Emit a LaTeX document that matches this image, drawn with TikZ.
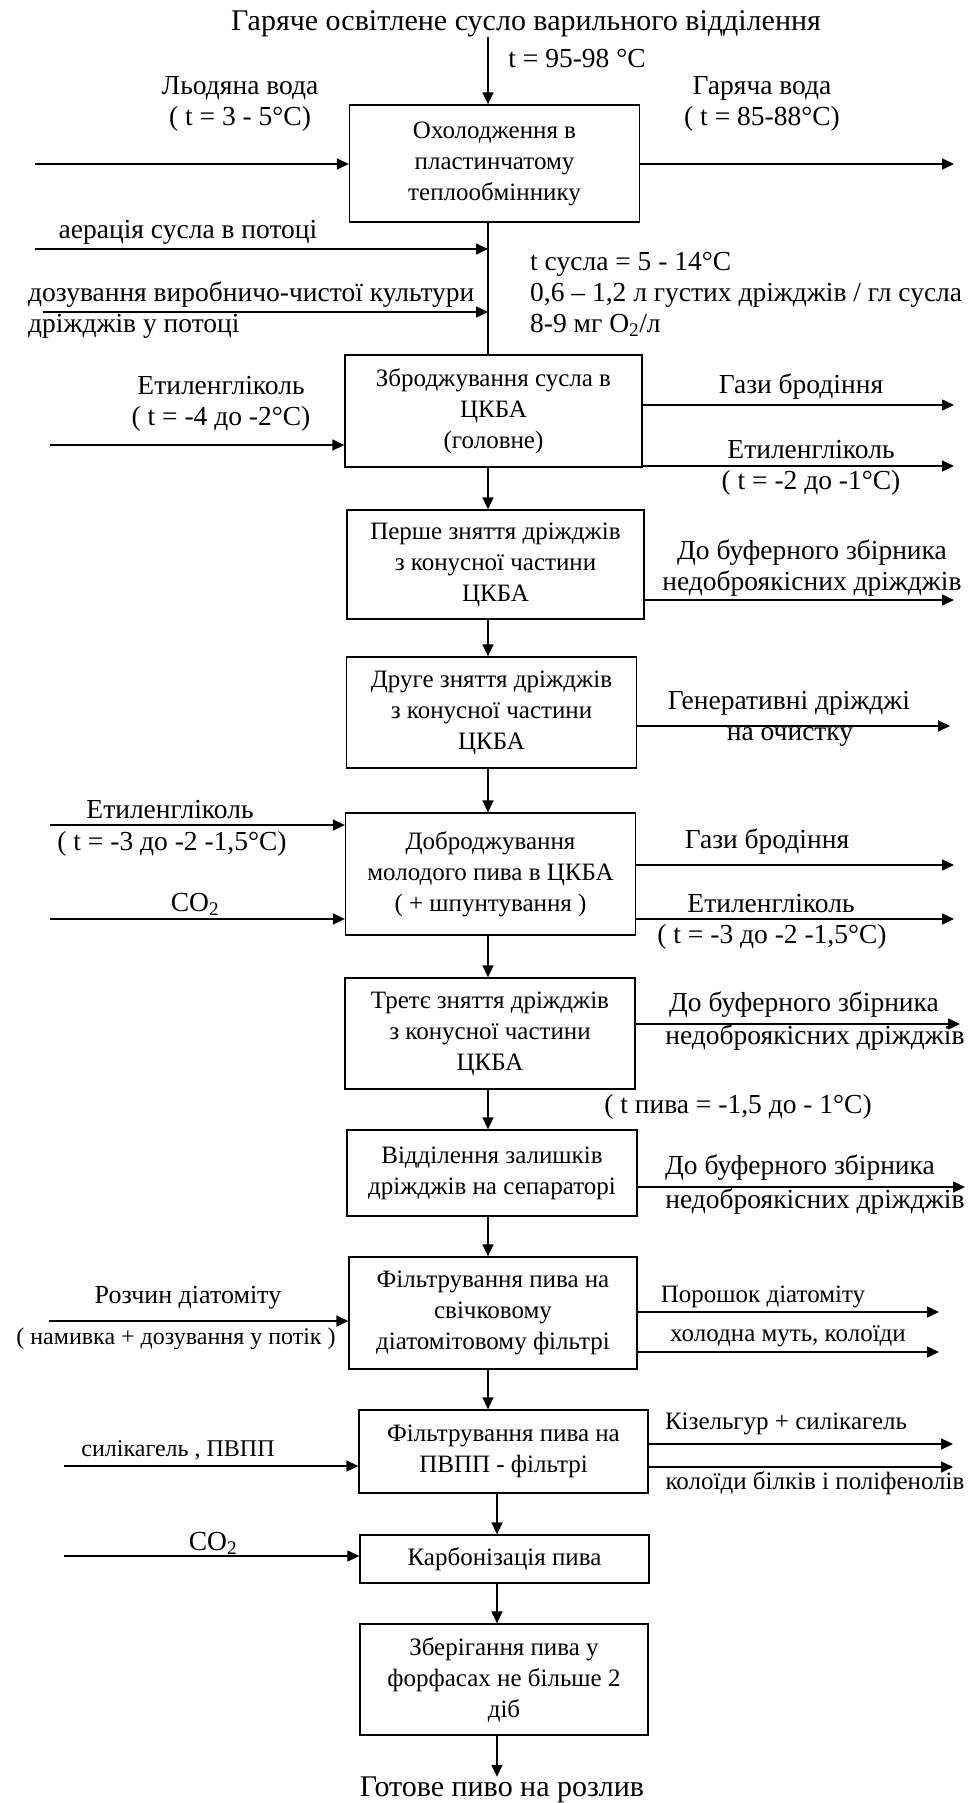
\documentclass[tikz,border=0pt]{standalone}
\usepackage{fontspec}
\setmainfont{Liberation Serif}
\usetikzlibrary{arrows.meta}

\begin{document}
\begin{tikzpicture}[x=1pt,y=-1pt,
   every node/.style={inner sep=0pt},
   stage/.style={draw,line width=1.3pt,align=center,minimum width=290pt,
      font=\fontsize{25}{31}\selectfont},
   lbl/.style={align=center,font=\fontsize{27.5}{31}\selectfont},
   lbs/.style={align=center,font=\fontsize{25}{30}\selectfont},
   flow/.style={line width=1.5pt,-{Triangle[length=12pt,width=11pt]}},
   pipe/.style={line width=1.5pt}]

\useasboundingbox (0,0) rectangle (970,1803);

\coordinate (s1) at (488,0);
\coordinate (s2) at (497,0);

\node[lbl,font=\fontsize{30}{32}\selectfont] (top) at (526,24) {Гаряче освітлене сусло варильного відділення};
\node[lbl] (tin) at (577,58) {t =  95-98 °C};

\node[stage,minimum height=117pt] (cool) at (494.5,163.5) {Охолодження в\\пластинчатому\\теплообміннику};
\node[stage,minimum height=112pt,minimum width=297pt] (ferm) at (493.5,411) {Зброджування сусла в\\ЦКБА\\(головне)};
\node[stage,minimum height=109pt,minimum width=297pt] (yst1) at (495.5,564.5) {Перше зняття дріжджів\\з конусної частини\\ЦКБА};
\node[stage,minimum height=111pt] (yst2) at (491.5,712.5) {Друге зняття дріжджів\\з конусної частини\\ЦКБА};
\node[stage,minimum height=122pt] (matur) at (490.5,874) {Доброджування\\молодого пива в ЦКБА\\( + шпунтування )};
\node[stage,minimum height=111pt] (yst3) at (490,1033.5) {Третє зняття  дріжджів\\з конусної частини\\ЦКБА};
\node[stage,minimum height=86pt] (sep) at (492,1173) {Відділення залишків\\дріжджів на сепараторі};
\node[stage,minimum height=112pt,minimum width=288pt] (filt1) at (493,1313) {Фільтрування пива на\\свічковому\\діатомітовому фільтрі};
\node[stage,minimum height=83pt,minimum width=289pt] (filt2) at (503.5,1451.5) {Фільтрування пива на\\ПВПП - фільтрі};
\node[stage,minimum height=48pt,minimum width=289pt] (carb) at (504.5,1559) {Карбонізація пива};
\node[stage,minimum height=111pt,minimum width=288pt] (store) at (504,1679.5) {Зберігання пива у\\форфасах не більше 2\\діб};
\node[lbl,font=\fontsize{30}{32}\selectfont] (fin) at (502,1790) {Готове пиво на розлив};

\draw[flow] (top.south -| s1) -- (cool.north -| s1);
\draw[pipe] (cool.south -| s1) -- (ferm.north -| s1);
\draw[flow] (ferm.south -| s1) -- (yst1.north -| s1);
\draw[flow] (yst1.south -| s1) -- (yst2.north -| s1);
\draw[flow] (yst2.south -| s1) -- (matur.north -| s1);
\draw[flow] (matur.south -| s1) -- (yst3.north -| s1);
\draw[flow] (yst3.south -| s1) -- (sep.north -| s1);
\draw[flow] (sep.south -| s1) -- (filt1.north -| s1);
\draw[flow] (filt1.south -| s1) -- (filt2.north -| s1);
\draw[flow] (filt2.south -| s2) -- (carb.north -| s2);
\draw[flow] (carb.south -| s2) -- (store.north -| s2);
\draw[flow] (store.south -| s2) -- (fin.north -| s2);

\node[lbl] (icew) at (240,104) {Льодяна вода\\( t = 3 - 5°C)};
\coordinate (w1) at (35,164);
\draw[flow] (w1) -- (w1 -| cool.west);
\node[lbl] (hotw) at (762,104) {Гаряча вода\\( t = 85-88°C)};
\coordinate (e1) at (954,164);
\draw[flow] (e1 -| cool.east) -- (e1);

\node[lbl] (aer) at (188,232) {аерація сусла в потоці};
\coordinate (w2) at (35,249);
\draw[flow] (w2) -- (w2 -| s1);
\node[lbl,align=left,anchor=west] (dose) at (28,310) {дозування  виробничо-чистої культури\\дріжджів у потоці};
\coordinate (w3) at (43,312);
\draw[flow] (w3) -- (w3 -| s1);
\node[lbl,align=left,anchor=west] (wort) at (530,294) {t сусла = 5 - 14°C\\0,6 – 1,2 л  густих дріжджів / гл сусла\\8-9 мг O\textsubscript{2}/л};

\node[lbl] (gly1) at (221,404) {Етиленгліколь\\( t = -4 до -2°C)};
\coordinate (w4) at (50,445);
\draw[flow] (w4) -- (w4 -| ferm.west);
\node[lbl] (gas1) at (801,387) {Гази бродіння};
\coordinate (e2) at (954,405);
\draw[flow] (e2 -| ferm.east) -- (e2);
\node[lbl] (gly2) at (811,450) {Етиленгліколь};
\node[lbl] (gly2t) at (811,483) {( t = -2 до -1°C)};
\coordinate (e3) at (954,466);
\draw[flow] (e3 -| ferm.east) -- (e3);

\node[lbl] (buf1) at (812,568) {До буферного збірника\\недоброякісних дріжджів};
\coordinate (e4) at (954,600);
\draw[flow] (e4 -| yst1.east) -- (e4);

\node[lbl] (gen) at (789,703) {Генеративні дріжджі};
\node[lbl] (gent) at (790,737) {на очистку};
\coordinate (e5) at (950,726);
\draw[flow] (e5 -| yst2.east) -- (e5);

\node[lbl] (gly3) at (170,810) {Етиленгліколь};
\node[lbl] (gly3t) at (172,844) {( t = -3 до -2 -1,5°C)};
\coordinate (w5) at (50,825);
\draw[flow] (w5) -- (w5 -| matur.west);
\node[lbl] (co1) at (195,904) {CO\textsubscript{2}};
\coordinate (w6) at (50,919);
\draw[flow] (w6) -- (w6 -| matur.west);
\node[lbl] (gas2) at (767,842) {Гази бродіння};
\coordinate (e6) at (954,865);
\draw[flow] (e6 -| matur.east) -- (e6);
\node[lbl] (gly4) at (771,904) {Етиленгліколь};
\node[lbl] (gly4t) at (772,937) {( t = -3 до -2 -1,5°C)};
\coordinate (e7) at (954,919);
\draw[flow] (e7 -| matur.east) -- (e7);

\node[lbl] (buf2) at (804,1005) {До буферного збірника};
\node[lbl] (buf2t) at (815,1038) {недоброякісних дріжджів};
\coordinate (e8) at (960,1024);
\draw[flow] (e8 -| yst3.east) -- (e8);
\node[lbl] (tbeer) at (738,1107) {( t пива = -1,5 до - 1°C)};

\node[lbl] (buf3) at (800,1168) {До буферного збірника};
\node[lbl] (buf3t) at (815,1202) {недоброякісних дріжджів};
\coordinate (e9) at (965,1187);
\draw[flow] (e9 -| sep.east) -- (e9);

\node[lbs,font=\fontsize{26}{30}\selectfont] (diat) at (188,1298) {Розчин діатоміту};
\node[lbs,font=\fontsize{24}{30}\selectfont] (diatt) at (176,1339) {( намивка + дозування у потік )};
\coordinate (w7) at (49,1321);
\draw[flow] (w7) -- (w7 -| filt1.west);
\node[lbs] (pow) at (763,1297) {Порошок діатоміту};
\coordinate (e10) at (939,1312);
\draw[flow] (e10 -| filt1.east) -- (e10);
\node[lbs] (haze) at (788,1336) {холодна муть, колоїди};
\coordinate (e11) at (939,1352);
\draw[flow] (e11 -| filt1.east) -- (e11);

\node[lbs,font=\fontsize{24}{30}\selectfont] (sil) at (178,1450) {силікагель , ПВПП};
\coordinate (w8) at (64,1466);
\draw[flow] (w8) -- (w8 -| filt2.west);
\node[lbs] (kies) at (786,1424) {Кізельгур + силікагель};
\coordinate (e12) at (953,1444);
\draw[flow] (e12 -| filt2.east) -- (e12);
\node[lbs] (coll) at (815,1483) {колоїди білків і поліфенолів};
\coordinate (e13) at (953,1467);
\draw[flow] (e13 -| filt2.east) -- (e13);

\node[lbl] (co2) at (213,1543) {CO\textsubscript{2}};
\coordinate (w9) at (64,1556);
\draw[flow] (w9) -- (w9 -| carb.west);

\end{tikzpicture}
\end{document}
